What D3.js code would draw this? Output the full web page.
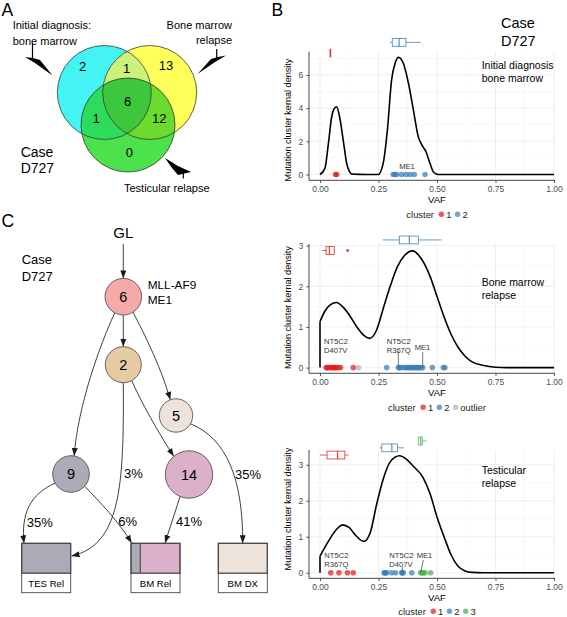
<!DOCTYPE html>
<html><head><meta charset="utf-8">
<script src="https://cdn.jsdelivr.net/npm/d3@7"></script>
<style>
body{margin:0;background:#fff;}
svg{display:block;font-family:"Liberation Sans",Arial,Helvetica,sans-serif;}
</style></head><body>
<svg id="c" width="567" height="617"></svg>
<script>
// ================= DATA =================
// Panel A: Venn diagram counts
const vennSetNames = ["Initial diagnosis: bone marrow", "Bone marrow relapse", "Testicular relapse"];
const vennRegions = ["D", "B", "T", "DB", "DT", "BT", "DBT"];
const vennCounts  = [2, 13, 0, 1, 1, 12, 6];

// Panel B: shared axis
const vafTicks = [0, 0.25, 0.5, 0.75, 1];
const vafTickLabels = ["0.00", "0.25", "0.50", "0.75", "1.00"];

// Panel B1: initial diagnosis bone marrow
const dxDensX = [0,0.021,0.036,0.05,0.06,0.071,0.082,0.093,0.104,0.114,0.125,0.135,0.2,0.249,0.27,0.288,0.306,0.322,0.335,0.356,0.378,0.399,0.42,0.435,0.453,0.47,0.484,0.506,0.6,0.8,1];
const dxDensY = [0,0.37,1.88,3.48,3.95,4.08,3.6,2.68,1.6,0.67,0.2,0.03,0,0,0.67,2.68,5.7,6.75,7.06,6.7,5.5,3.9,2.28,1.78,1.37,0.67,0.17,0,0,0,0];
const dxVaf     = [0.067,0.071,0.313,0.32,0.328,0.349,0.368,0.385,0.403,0.449];
const dxCluster = ["1","1","2","2","2","2","2","2","2","2"];
const dxBoxCluster = ["1","2"];
const dxBoxStats   = [[0.044,0.044,0.044,0.044,0.044],[0.299,0.309,0.338,0.367,0.43]];
const dxBoxOutliers = [[],[]];
const dxBoxLevel   = [7.32, 7.96];
const dxLegend = ["1","2"];

// Panel B2: bone marrow relapse
const bmDensX = [0,0,0.02,0.045,0.07,0.1,0.13,0.16,0.19,0.212,0.24,0.27,0.3,0.33,0.36,0.396,0.43,0.47,0.5,0.53,0.56,0.59,0.62,0.65,0.7,0.75,0.8,1];
const bmDensY = [0,1.13,1.38,1.55,1.6,1.48,1.25,0.98,0.78,0.72,0.9,1.45,2.0,2.47,2.75,2.87,2.7,2.25,1.75,1.25,0.82,0.5,0.28,0.14,0.05,0.01,0,0];
const bmVaf     = [0.026,0.031,0.036,0.046,0.052,0.057,0.062,0.068,0.078,0.088,0.142,0.165,0.285,0.335,0.34,0.345,0.356,0.365,0.37,0.378,0.385,0.392,0.399,0.406,0.413,0.418,0.424,0.432,0.439,0.48,0.527,0.534];
const bmCluster = ["1","1","1","1","1","1","1","1","1","1","1","outlier","2","2","2","2","2","2","2","2","2","2","2","2","2","2","2","2","2","2","2","2"];
const bmBoxCluster = ["1","2"];
const bmBoxStats   = [[0.009,0.026,0.04,0.061,0.061],[0.268,0.339,0.382,0.42,0.52]];
const bmBoxOutliers = [[0.118],[]];
const bmBoxLevel   = [2.88, 3.14];
const bmLegend = ["1","2","outlier"];

// Panel B3: testicular relapse
const tesDensX = [0,0,0.02,0.045,0.07,0.097,0.125,0.155,0.187,0.215,0.242,0.27,0.3,0.34,0.37,0.4,0.44,0.47,0.5,0.53,0.56,0.59,0.62,0.65,0.7,1];
const tesDensY = [0,0.46,0.7,0.97,1.2,1.33,1.25,1.02,0.87,1.12,1.9,2.6,3.08,3.25,3.15,2.95,2.65,2.2,1.55,1.0,0.5,0.18,0.05,0.01,0,0];
const tesVaf     = [0.046,0.081,0.117,0.142,0.274,0.277,0.28,0.285,0.306,0.323,0.349,0.352,0.356,0.392,0.43,0.436,0.442,0.449,0.473];
const tesCluster = ["1","1","1","1","2","2","2","2","2","2","2","2","2","2","3","3","3","3","3"];
const tesBoxCluster = ["1","2","3"];
const tesBoxStats   = [[0.0,0.03,0.075,0.106,0.122],[0.255,0.264,0.307,0.331,0.358],[0.42,0.42,0.43,0.437,0.456]];
const tesBoxOutliers = [[],[],[]];
const tesBoxLevel   = [3.27, 3.47, 3.66];
const tesLegend = ["1","2","3"];

// Panel C: clonal tree
const treeNodes  = ["6","2","5","9","14"];
const nodeNotes  = [["MLL-AF9","ME1"],[],[],[],[]];
const samples    = ["TES Rel","BM Rel","BM DX"];
const sampleClones = [["9"],["9","14"],["5"]];
const sampleFractions = [[1],[0.19,0.81],[1]];
const edgeFrom  = ["GL","6","6","6","2","2","9","9","14","5"];
const edgeTo    = ["6","2","9","5","14","TES Rel","TES Rel","BM Rel","BM Rel","BM DX"];
const edgeLabel = ["","","","","","3%","35%","6%","41%","35%"];

// ================= DRAW =================
const svg = d3.select("#c");

// ---------- Panel A ----------
(function(){
  const g = svg.append("g");
  g.append("text").attr("x",1.5).attr("y",15.7).attr("font-size",17.5).text("A");
  const circ = {D:{cx:104.3,cy:92.5}, B:{cx:149.7,cy:92.5}, T:{cx:128,cy:125}};
  const R = 47;
  const fills = {D:"#44F4F4",B:"#FFFF59",T:"#4CE24C",DB:"#CDF27A",DT:"#2EDC5C",BT:"#6BDC2E",DBT:"#3DC73D"};
  const defs = svg.append("defs");
  ["D","B","T"].forEach(k=>{
    defs.append("clipPath").attr("id","clip"+k).append("circle")
      .attr("cx",circ[k].cx).attr("cy",circ[k].cy).attr("r",R);
  });
  ["D","B","T"].forEach(k=>{
    g.append("circle").attr("cx",circ[k].cx).attr("cy",circ[k].cy).attr("r",R).attr("fill",fills[k]);
  });
  [["D","B"],["D","T"],["B","T"]].forEach(([a,b])=>{
    g.append("circle").attr("cx",circ[a].cx).attr("cy",circ[a].cy).attr("r",R)
      .attr("clip-path","url(#clip"+b+")").attr("fill",fills[a+b]);
  });
  g.append("g").attr("clip-path","url(#clipT)").append("circle")
    .attr("cx",circ.D.cx).attr("cy",circ.D.cy).attr("r",R)
    .attr("clip-path","url(#clipB)").attr("fill",fills.DBT);
  ["D","B","T"].forEach(k=>{
    g.append("circle").attr("cx",circ[k].cx).attr("cy",circ[k].cy).attr("r",R)
      .attr("fill","none").attr("stroke","#3a3a3a").attr("stroke-width",0.8);
  });
  const regionPos = {D:[82.7,66.5],B:[166,65.5],T:[129.3,152.5],DB:[126.7,68],DT:[96,118],BT:[159.3,118],DBT:[127.7,101.5]};
  vennRegions.forEach((r,i)=>{
    g.append("text").attr("x",regionPos[r][0]).attr("y",regionPos[r][1])
      .attr("text-anchor","middle").attr("dominant-baseline","central")
      .attr("font-size",13).text(vennCounts[i]);
  });
  // set labels
  g.append("text").attr("x",12.7).attr("y",29).attr("font-size",11).text("Initial diagnosis:");
  g.append("text").attr("x",12.7).attr("y",45).attr("font-size",11).text("bone marrow");
  g.append("text").attr("x",232).attr("y",29).attr("text-anchor","end").attr("font-size",11).text("Bone marrow");
  g.append("text").attr("x",232).attr("y",44).attr("text-anchor","end").attr("font-size",11).text("relapse");
  g.append("text").attr("x",124).attr("y",192).attr("font-size",11).text("Testicular relapse");
  g.append("text").attr("x",20.7).attr("y",156.5).attr("font-size",14).text("Case");
  g.append("text").attr("x",20.7).attr("y",173.3).attr("font-size",14).text("D727");
  // pointers
  const wedge = (pts)=>g.append("path").attr("d","M"+pts.map(p=>p.join(",")).join("L")+"Z").attr("fill","#000");
  wedge([[25,57],[33,58],[40,60],[52.5,75.5],[35,63]]);
  g.append("line").attr("x1",32.5).attr("x2",32.5).attr("y1",43).attr("y2",59).attr("stroke","#000").attr("stroke-width",1.2);
  wedge([[226,55.5],[218,57],[211,59],[197.5,74],[215,62]]);
  g.append("line").attr("x1",216.7).attr("x2",216.7).attr("y1",49).attr("y2",58).attr("stroke","#000").attr("stroke-width",1.2);
  wedge([[165,158],[178,166],[191,172],[178,175],[172,168]]);
  g.append("line").attr("x1",183.3).attr("x2",183.3).attr("y1",171).attr("y2",178.5).attr("stroke","#000").attr("stroke-width",1.2);
})();

// ---------- Panel B ----------
const clusterColor = {"1":"#E41A1C","2":"#377EB8","3":"#4DAF4A","outlier":"#BDBDBD"};
svg.append("text").attr("x",271.5).attr("y",16).attr("font-size",17.5).text("B");
svg.append("text").attr("x",501).attr("y",27.5).attr("font-size",14.5).text("Case");
svg.append("text").attr("x",501).attr("y",45.7).attr("font-size",14.5).text("D727");

const panels = [
  {dx:dxDensX, dy:dxDensY, vaf:dxVaf, cl:dxCluster, bc:dxBoxCluster, bs:dxBoxStats, bo:dxBoxOutliers, bl:dxBoxLevel,
   legend:dxLegend, yTicks:[0,2,4,6], yDom:[-0.35,7.4], yRange:[180.3,51.7],
   title:["Initial diagnosis","bone marrow"], titleY:[68.5,82], ylabY:120, legendY:214,
   annots:[{lines:["ME1"], x:407, y:169.3, anchor:"middle"}]},
  {dx:bmDensX, dy:bmDensY, vaf:bmVaf, cl:bmCluster, bc:bmBoxCluster, bs:bmBoxStats, bo:bmBoxOutliers, bl:bmBoxLevel,
   legend:bmLegend, yTicks:[0,1,2,3], yDom:[-0.14,3.04], yRange:[373.3,244],
   title:["Bone marrow","relapse"], titleY:[285.7,298.5], ylabY:307.5, legendY:407,
   annots:[{lines:["NT5C2","D407V"], x:324, y:344.3, anchor:"start"},
           {lines:["NT5C2","R367Q"], x:386.7, y:344.3, anchor:"start", line:[398.3,351.5,398.3,367.6]},
           {lines:["ME1"], x:422.5, y:350.3, anchor:"middle", line:[422.7,352,422.7,367.6]}]},
  {dx:tesDensX, dy:tesDensY, vaf:tesVaf, cl:tesCluster, bc:tesBoxCluster, bs:tesBoxStats, bo:tesBoxOutliers, bl:tesBoxLevel,
   legend:tesLegend, yTicks:[0,1,2,3], yDom:[-0.155,3.41], yRange:[578.3,450],
   title:["Testicular","relapse"], titleY:[474,486.5], ylabY:509, legendY:611,
   annots:[{lines:["NT5C2","R367Q"], x:324.3, y:558.3, anchor:"start"},
           {lines:["NT5C2","D407V"], x:389.3, y:558.3, anchor:"start", line:[402.7,567,401.7,572.7]},
           {lines:["ME1"], x:424.5, y:558.3, anchor:"middle", line:[423.3,560,420.7,572.7]}]}
];

panels.forEach(p=>{
  const g = svg.append("g");
  const x = d3.scaleLinear().domain([0,1]).range([320,554]);
  const y = d3.scaleLinear().domain(p.yDom).range(p.yRange);
  const xL = 309, xR = 555, yB = p.yRange[0], yT = p.yRange[1];
  // grid
  const minorX = [0.125,0.375,0.625,0.875];
  const minorY = [];
  const step = p.yTicks[1]-p.yTicks[0];
  for (let i=0;i<p.yTicks.length;i++){
    const m = p.yTicks[i]+step/2;
    if (m < p.yDom[1]) minorY.push(m);
  }
  g.selectAll(".mnx").data(minorX).join("line").attr("x1",d=>x(d)).attr("x2",d=>x(d)).attr("y1",yT).attr("y2",yB).attr("stroke","#f4f4f4").attr("stroke-width",0.6);
  g.selectAll(".mny").data(minorY).join("line").attr("y1",d=>y(d)).attr("y2",d=>y(d)).attr("x1",xL).attr("x2",xR).attr("stroke","#f4f4f4").attr("stroke-width",0.6);
  g.selectAll(".mjx").data(vafTicks).join("line").attr("x1",d=>x(d)).attr("x2",d=>x(d)).attr("y1",yT).attr("y2",yB).attr("stroke","#ebebeb").attr("stroke-width",0.8);
  g.selectAll(".mjy").data(p.yTicks).join("line").attr("y1",d=>y(d)).attr("y2",d=>y(d)).attr("x1",xL).attr("x2",xR).attr("stroke","#ebebeb").attr("stroke-width",0.8);

  // axes
  const ax = g.append("g").attr("transform",`translate(0,${yB})`)
    .call(d3.axisBottom(x).tickValues(vafTicks).tickFormat((d,i)=>vafTickLabels[i]).tickSize(2.7).tickPadding(3));
  const ay = g.append("g").attr("transform",`translate(${xL},0)`)
    .call(d3.axisLeft(y).tickValues(p.yTicks).tickFormat(d3.format("d")).tickSize(2.7).tickPadding(3));
  [ax,ay].forEach(a=>{
    a.select(".domain").remove();
    a.selectAll("text").attr("font-size",8.5).attr("fill","#4d4d4d").attr("font-family",null);
    a.selectAll("line").attr("stroke","#333").attr("stroke-width",0.8);
  });
  g.append("line").attr("x1",xL).attr("x2",xR).attr("y1",yB).attr("y2",yB).attr("stroke","#333").attr("stroke-width",0.9);
  g.append("line").attr("x1",xL).attr("x2",xL).attr("y1",yT).attr("y2",yB).attr("stroke","#333").attr("stroke-width",0.9);

  // axis titles
  g.append("text").attr("x",437).attr("y",yB+22.3).attr("text-anchor","middle").attr("font-size",9.6).text("VAF");
  g.append("text").attr("transform",`translate(290.5,${p.ylabY}) rotate(-90)`).attr("text-anchor","middle")
    .attr("font-size",9.1).text("Mutation cluster kernal density");

  // density curve (vertical segments drawn straight)
  const pts = p.dx.map((v,i)=>[v,p.dy[i]]);
  const line = d3.line().x(d=>x(d[0])).y(d=>y(d[1])).curve(d3.curveMonotoneX);
  const straight = d3.line().x(d=>x(d[0])).y(d=>y(d[1]));
  let start = 0;
  const segs = [];
  for (let i=1;i<pts.length;i++){
    if (pts[i][0]===pts[i-1][0]){
      if (i-1>start) segs.push({curve:true, pts:pts.slice(start,i)});
      segs.push({curve:false, pts:[pts[i-1],pts[i]]});
      start = i;
    }
  }
  segs.push({curve:true, pts:pts.slice(start)});
  segs.forEach(s=>{
    g.append("path").attr("d", s.curve ? line(s.pts) : straight(s.pts))
      .attr("fill","none").attr("stroke","#000").attr("stroke-width",1.6).attr("stroke-linejoin","round");
  });

  // points
  g.selectAll(".pt").data(p.vaf.map((v,i)=>({v, c:p.cl[i]}))).join("circle")
    .attr("cx",d=>x(d.v)).attr("cy",y(0)).attr("r",2.8)
    .attr("fill",d=>clusterColor[d.c]).attr("fill-opacity",d=>d.c==="outlier"?0.85:0.72);

  // annotations
  p.annots.forEach(a=>{
    if (a.line) g.append("line").attr("x1",a.line[0]).attr("y1",a.line[1]).attr("x2",a.line[2]).attr("y2",a.line[3])
      .attr("stroke","#555").attr("stroke-width",0.8);
    a.lines.forEach((t,k)=>{
      g.append("text").attr("x",a.x).attr("y",a.y + k*8.3).attr("text-anchor",a.anchor)
        .attr("font-size",7.6).attr("fill","#333").text(t);
    });
  });

  // boxplots
  const bh = 7.8;
  p.bc.forEach((c,i)=>{
    const s = p.bs[i], yc = y(p.bl[i]), col = clusterColor[c];
    const bg = g.append("g").attr("stroke",col).attr("stroke-width",0.9).attr("stroke-opacity",0.85);
    bg.append("line").attr("x1",x(s[0])).attr("x2",x(s[1])).attr("y1",yc).attr("y2",yc);
    bg.append("line").attr("x1",x(s[3])).attr("x2",x(s[4])).attr("y1",yc).attr("y2",yc);
    bg.append("rect").attr("x",x(s[1])).attr("y",yc-bh/2).attr("width",Math.max(x(s[3])-x(s[1]),0.4)).attr("height",bh).attr("fill","#fff");
    bg.append("line").attr("x1",x(s[2])).attr("x2",x(s[2])).attr("y1",yc-bh/2).attr("y2",yc+bh/2).attr("stroke-width",1.2);
    p.bo[i].forEach(o=>g.append("circle").attr("cx",x(o)).attr("cy",yc).attr("r",1.3).attr("fill",col));
  });

  // panel title
  p.title.forEach((t,k)=>g.append("text").attr("x",481.7).attr("y",p.titleY[k]).attr("font-size",10.5).text(t));

  // legend
  const lg = g.append("g");
  let cx = 0;
  const t0 = lg.append("text").attr("x",cx).attr("y",0).attr("dominant-baseline","central").attr("font-size",9.4).attr("fill","#222").text("cluster");
  cx += t0.node().getComputedTextLength() + 7.4;
  p.legend.forEach(k=>{
    lg.append("circle").attr("cx",cx).attr("cy",0.3).attr("r",2.7).attr("fill",clusterColor[k]).attr("fill-opacity",k==="outlier"?0.85:0.72);
    cx += 4.8;
    const t = lg.append("text").attr("x",cx).attr("y",0).attr("dominant-baseline","central").attr("font-size",9.4).attr("fill","#222").text(k);
    cx += t.node().getComputedTextLength() + 6.2;
  });
  const w = cx - 6.2;
  lg.attr("transform",`translate(${437 - w/2},${p.legendY})`);
});

// ---------- Panel C ----------
(function(){
  const g = svg.append("g");
  g.append("text").attr("x",1.5).attr("y",226.7).attr("font-size",17.5).text("C");
  g.append("text").attr("x",21.7).attr("y",264).attr("font-size",13).text("Case");
  g.append("text").attr("x",21.7).attr("y",280.7).attr("font-size",13).text("D727");
  g.append("text").attr("x",123.3).attr("y",238.3).attr("text-anchor","middle").attr("font-size",15).text("GL");

  const nodeGeom = {"6":[123.3,296.7,18.3],"2":[123.3,364.7,18],"5":[176,415.5,16.7],"9":[71,474,18.3],"14":[189,474.5,23.7]};
  const cloneFill = {"6":"#F6A9A9","2":"#E4CBA1","5":"#EDE3DA","9":"#ABABB8","14":"#DCB0C8"};
  const boxGeom = {"TES Rel":[21.7,543.3],"BM Rel":[131,543.3],"BM DX":[218.3,543.3]};
  const BW = 49, BH = 30, LH = 19.4;
  const polar = (id,a)=>{const n=nodeGeom[id]; const r=a*Math.PI/180; return [n[0]+n[2]*Math.cos(r), n[1]+n[2]*Math.sin(r)];};

  const defs = svg.append("defs");
  defs.append("marker").attr("id","arr").attr("viewBox","0 0 8 6").attr("refX",8).attr("refY",3)
    .attr("markerWidth",8).attr("markerHeight",6).attr("markerUnits","userSpaceOnUse").attr("orient","auto")
    .append("path").attr("d","M0,0L8,3L0,6Z").attr("fill","#1a1a1a");

  // edge geometry (layout)
  const edgeGeom = [
    {s:[123.3,244], e:polar("6",-90)},
    {s:polar("6",90), e:polar("2",-90)},
    {s:polar("6",118), e:polar("9",-80), c1:[100,345], c2:[78,405]},
    {s:polar("6",58), e:polar("5",-110), c1:[146,337], c2:[162,370]},
    {s:polar("2",62), e:polar("14",-130), c1:[141,402], c2:[158,432]},
    {s:polar("2",90), e:[71.5,556], c1:[124,485], c2:[121,545]},
    {s:polar("9",150), e:[24,543.3], c1:[30,494], c2:[21,514]},
    {s:polar("9",42), e:[131.7,543], c1:[100,502], c2:[119,522]},
    {s:polar("14",112), e:[165,543]},
    {s:polar("5",30), e:[242.7,543.3], c1:[226,438], c2:[243,478]}
  ];
  const labelPos = [null,null,null,null,null,[124,478.3],[26.7,526.7],[118.3,526],[176,526],[235,479.3]];

  edgeFrom.forEach((f,i)=>{
    const eg = edgeGeom[i];
    const pth = d3.path();
    pth.moveTo(eg.s[0],eg.s[1]);
    if (eg.c1) pth.bezierCurveTo(eg.c1[0],eg.c1[1],eg.c2[0],eg.c2[1],eg.e[0],eg.e[1]);
    else pth.lineTo(eg.e[0],eg.e[1]);
    g.append("path").attr("d",pth.toString()).attr("fill","none").attr("stroke","#2a2a2a")
      .attr("stroke-width",0.9).attr("marker-end","url(#arr)");
    if (edgeLabel[i]) g.append("text").attr("x",labelPos[i][0]).attr("y",labelPos[i][1]).attr("font-size",13).text(edgeLabel[i]);
  });

  treeNodes.forEach((id,i)=>{
    const n = nodeGeom[id];
    g.append("circle").attr("cx",n[0]).attr("cy",n[1]).attr("r",n[2]).attr("fill",cloneFill[id])
      .attr("stroke","#555").attr("stroke-width",0.9);
    g.append("text").attr("x",n[0]).attr("y",n[1]).attr("text-anchor","middle").attr("dominant-baseline","central")
      .attr("font-size",14.5).text(id);
    nodeNotes[i].forEach((t,k)=>g.append("text").attr("x",147.7).attr("y",289.3+k*15).attr("font-size",11.8).text(t));
  });

  samples.forEach((s,i)=>{
    const b = boxGeom[s];
    let xx = b[0];
    sampleClones[i].forEach((c,k)=>{
      const w = BW*sampleFractions[i][k];
      g.append("rect").attr("x",xx).attr("y",b[1]).attr("width",w).attr("height",BH).attr("fill",cloneFill[c])
        .attr("stroke","#444").attr("stroke-width",0.9);
      xx += w;
    });
    g.append("rect").attr("x",b[0]).attr("y",b[1]).attr("width",BW).attr("height",BH).attr("fill","none")
      .attr("stroke","#444").attr("stroke-width",1.1);
    g.append("rect").attr("x",b[0]).attr("y",b[1]+BH).attr("width",BW).attr("height",LH).attr("fill","#fff")
      .attr("stroke","#444").attr("stroke-width",0.9);
    g.append("text").attr("x",b[0]+BW/2).attr("y",b[1]+BH+14).attr("text-anchor","middle").attr("font-size",9.6).text(s);
  });
})();
</script>
</body></html>
